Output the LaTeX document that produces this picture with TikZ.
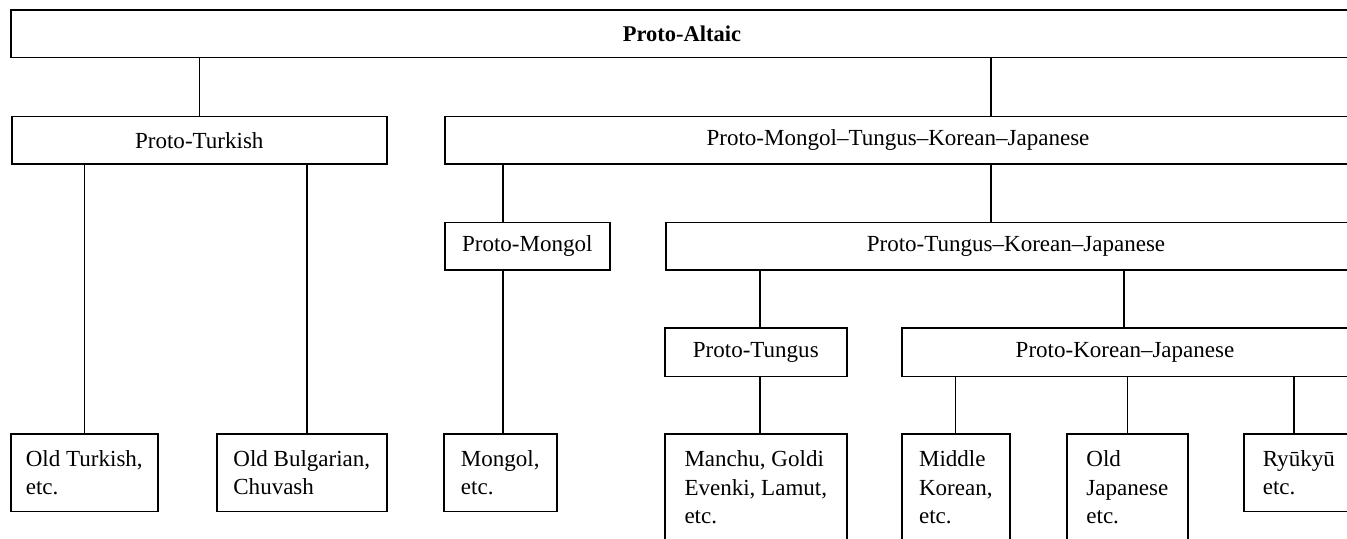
\documentclass[tikz,border=0pt]{standalone}
\usepackage{fontspec}
\setmainfont{Liberation Serif}

\tikzset{
    box/.style={draw, line width=0.9pt, inner sep=0pt, minimum height=0.95cm, anchor=north west},
    leaf/.style={draw, line width=0.9pt, inner ysep=0pt, align=left, minimum height=1.55cm, anchor=north west},
    branch/.style={line width=0.7pt},
    lbl/.style={inner sep=0pt}
}

\begin{document}
\begin{tikzpicture}[font=\fontsize{13.1}{16.1}\selectfont]
    \useasboundingbox (0,0) rectangle (26.94,-10.76) ;
    \clip (0,0) rectangle (26.94,-10.76) ;
    \node[box, minimum width=28.2cm] (altaic) at (0.2,-0.186) {} ;
    \node[lbl, font=\fontsize{12.8}{16.1}\selectfont\bfseries] (altaicT) at (altaic.west -| 13.64,0) {Proto-Altaic} ;
    \node[box, minimum width=7.5cm] (turkish) at (0.22,-2.314) {Proto-Turkish} ;
    \node[box, minimum width=19.52cm] (pmtkj) at (8.88,-2.314) {} ;
    \node[lbl] (pmtkjT) at (pmtkj.west -| 17.96,0) {Proto-Mongol--Tungus--Korean--Japanese} ;
    \node[box, minimum width=3.3cm] (mongol) at (8.88,-4.434) {Proto-Mongol} ;
    \node[box, minimum width=15.1cm] (ptkj) at (13.3,-4.434) {} ;
    \node[lbl] (ptkjT) at (ptkj.west -| 20.32,0) {Proto-Tungus--Korean--Japanese} ;
    \node[box, minimum width=3.64cm, minimum height=0.97cm] (tungus) at (13.28,-6.546) {Proto-Tungus} ;
    \node[box, minimum width=10.38cm, minimum height=0.97cm] (pkj) at (18.02,-6.546) {} ;
    \node[lbl] (pkjT) at (pkj.west -| 22.5,0) {Proto-Korean--Japanese} ;
    \node[leaf, minimum width=2.94cm] (oldturk) at (0.2,-8.666) {Old Turkish,\\etc.} ;
    \node[leaf, minimum width=3.4cm] (bulgar) at (4.32,-8.666) {Old Bulgarian,\\Chuvash} ;
    \node[leaf, minimum width=2.26cm] (mongolL) at (8.86,-8.666) {Mongol,\\etc.} ;
    \node[leaf, minimum width=3.64cm, minimum height=2.13cm] (manchu) at (13.28,-8.666) {Manchu, Goldi\\Evenki, Lamut,\\etc.} ;
    \node[leaf, minimum width=2.16cm, minimum height=2.13cm] (midkor) at (18.02,-8.666) {Middle\\Korean,\\etc.} ;
    \node[leaf, minimum width=2.42cm, minimum height=2.13cm] (oldjap) at (21.32,-8.666) {Old\\Japanese\\etc.} ;
    \node[leaf, text width=2.6cm, inner xsep=0.38cm] (ryukyu) at (24.86,-8.666) {Ryūkyū\\etc.} ;
    \coordinate (mtkj) at (19.82,0) ;
    \coordinate (bul) at (6.14,0) ;
    \coordinate (mon) at (10.06,0) ;
    \coordinate (tun) at (15.2,0) ;
    \coordinate (kj) at (22.48,0) ;
    \coordinate (ryu) at (25.88,0) ;
    \draw[branch] (altaic.south -| turkish.north) -- (turkish.north) ;
    \draw[branch] (altaic.south -| mtkj) -- (pmtkj.north -| mtkj) ;
    \draw[branch] (turkish.south -| oldturk.north) -- (oldturk.north) ;
    \draw[branch] (turkish.south -| bul) -- (bulgar.north -| bul) ;
    \draw[branch] (pmtkj.south -| mon) -- (mongol.north -| mon) ;
    \draw[branch] (pmtkj.south -| mtkj) -- (ptkj.north -| mtkj) ;
    \draw[branch] (mongol.south -| mon) -- (mongolL.north -| mon) ;
    \draw[branch] (ptkj.south -| tun) -- (tungus.north -| tun) ;
    \draw[branch] (ptkj.south -| kj) -- (pkj.north -| kj) ;
    \draw[branch] (tungus.south -| tun) -- (manchu.north -| tun) ;
    \draw[branch] (pkj.south -| midkor.north) -- (midkor.north) ;
    \draw[branch] (pkj.south -| oldjap.north) -- (oldjap.north) ;
    \draw[branch] (pkj.south -| ryu) -- (ryukyu.north -| ryu) ;
\end{tikzpicture}
\end{document}
